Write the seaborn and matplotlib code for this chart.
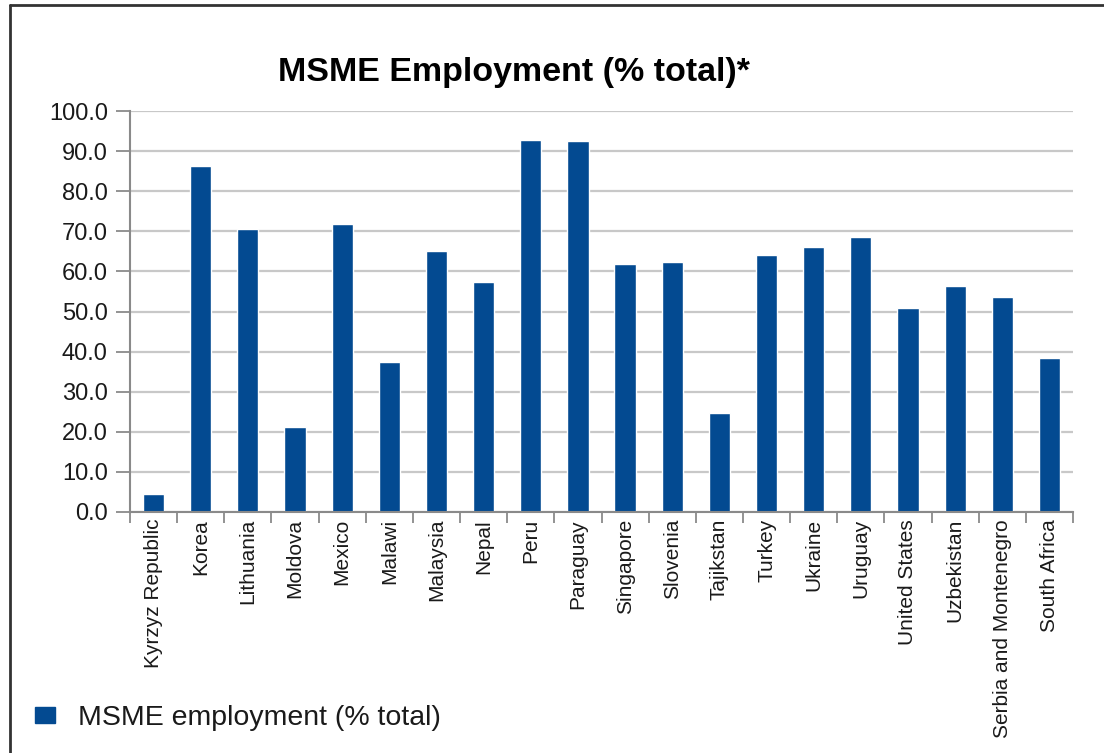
import pandas as pd
import seaborn as sns
import matplotlib.pyplot as plt
from matplotlib.lines import Line2D
from matplotlib.patches import Patch
from matplotlib.ticker import FixedLocator

# values
countries = ["Kyrzyz Republic", "Korea", "Lithuania", "Moldova", "Mexico", "Malawi",
             "Malaysia", "Nepal", "Peru", "Paraguay", "Singapore", "Slovenia",
             "Tajikstan", "Turkey", "Ukraine", "Uruguay", "United States",
             "Uzbekistan", "Serbia and Montenegro", "South Africa"]
employment = [4.5, 86.4, 70.5, 21.2, 71.9, 37.4,
              65.1, 57.3, 92.7, 92.5, 61.9, 62.4,
              24.6, 64.2, 66.1, 68.6, 50.9,
              56.4, 53.6, 38.3]
y_ticks = [0, 10, 20, 30, 40, 50, 60, 70, 80, 90, 100]
series_name = "MSME employment (% total)"
chart_title = "MSME Employment (% total)*"

df = pd.DataFrame({"country": countries, "value": employment})

sns.set_theme(style="white")
plt.rcParams["font.family"] = ["Liberation Sans", "DejaVu Sans"]

bar_color = "#034A91"
text_color = "#1a1a1a"
spine_color = "#8a8a8a"

fig = plt.figure(figsize=(11.04, 7.53), dpi=100)
ax = fig.add_axes([130 / 1104, 1 - 512 / 753, (1073 - 130) / 1104, (512 - 111) / 753])

sns.barplot(data=df, x="country", y="value", color=bar_color, width=0.45,
            saturation=1, ax=ax)

ax.set_ylim(0, 100)
ax.set_xlim(-0.5, len(countries) - 0.5)
ax.set_yticks(y_ticks)
ax.set_yticklabels([f"{v:.1f}" for v in y_ticks], fontsize=17, color=text_color)
ax.grid(axis="y", color="#c8c8c8", linewidth=1.6)
ax.set_axisbelow(True)

# category labels, rotated
ax.set_xticks(range(len(countries)))
ax.set_xticklabels(countries, rotation=90, fontsize=15, color=text_color, va="top")
ax.tick_params(axis="x", which="major", length=0, pad=5)
ax.xaxis.set_minor_locator(FixedLocator([i - 0.5 for i in range(len(countries) + 1)]))
ax.tick_params(axis="x", which="minor", length=8, width=1.3, color=spine_color, bottom=True)
ax.tick_params(axis="y", which="major", length=10, width=1.3, color=spine_color, left=True, pad=6)

ax.set_xlabel("")
ax.set_ylabel("")
for side in ["top", "right"]:
    ax.spines[side].set_visible(False)
for side in ["left", "bottom"]:
    ax.spines[side].set_color(spine_color)
    ax.spines[side].set_linewidth(1.5)

fig.text(514 / 1104, 1 - 72 / 753, chart_title, ha="center", va="center",
         fontsize=24.5, fontweight="bold", color="#000000")

handle = Patch(facecolor=bar_color, edgecolor=bar_color)
fig.legend([handle], [series_name], loc="center left",
           bbox_to_anchor=(9 / 1104, 1 - 718 / 753), frameon=False,
           fontsize=20.5, handlelength=0.72, handleheight=0.47, handletextpad=0.8,
           labelcolor=text_color)

# outer frame (left and top edges)
fig.add_artist(Line2D([10 / 1104, 10 / 1104], [0, 1 - 5 / 753],
                      transform=fig.transFigure, color="#333333", linewidth=2))
fig.add_artist(Line2D([10 / 1104, 1], [1 - 5 / 753, 1 - 5 / 753],
                      transform=fig.transFigure, color="#333333", linewidth=2))

fig.savefig("out.png", dpi=100)
